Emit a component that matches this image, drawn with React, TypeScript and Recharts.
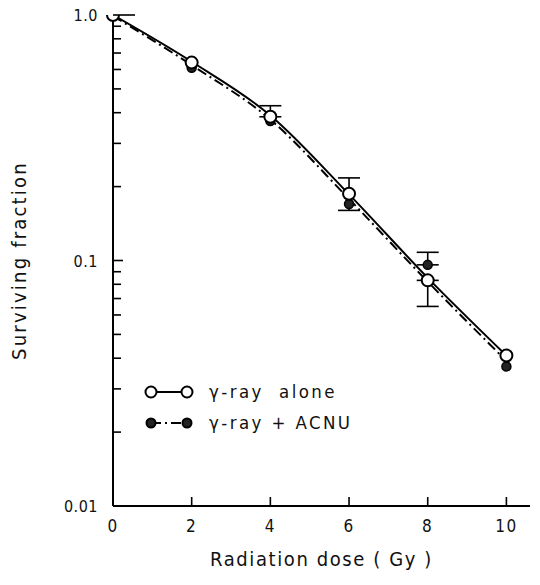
import { ErrorBar, Line, LineChart, XAxis, YAxis } from "recharts";

const doses = [0, 2, 4, 6, 8, 10];
// measured points
const aloneValues = [1.0, 0.64, 0.385, 0.187, 0.083, 0.041];
const acnuValues = [1.0, 0.61, 0.37, 0.17, 0.096, 0.037];
const aloneErrors: ([number, number] | null)[] = [null, null, [0, 0.042], [0.027, 0.03], [0.018, 0], null];
const acnuErrors: ([number, number] | null)[] = [null, null, null, null, [0, 0.012], null];
// fitted curves as drawn
const aloneCurve = [1.0, 0.645, 0.39, 0.186, 0.085, 0.041];
const acnuCurve = [0.99, 0.625, 0.375, 0.178, 0.082, 0.039];
const xTicks = [0, 2, 4, 6, 8, 10];
const yTicks = [
  0.01, 0.02, 0.03, 0.04, 0.05, 0.06, 0.07, 0.08, 0.09,
  0.1, 0.2, 0.3, 0.4, 0.5, 0.6, 0.7, 0.8, 0.9, 1.0,
];
const yLabels: Record<string, string> = { "0.01": "0.01", "0.1": "0.1", "1": "1.0" };

const data = doses.map((d, i) => ({
  dose: d,
  alone: aloneValues[i],
  acnu: acnuValues[i],
  aloneFit: aloneCurve[i],
  acnuFit: acnuCurve[i],
  errAlone: aloneErrors[i],
  errAcnu: acnuErrors[i],
}));

const FONT = "'DejaVu Sans Condensed', 'DejaVu Sans', sans-serif";
const Y_MARGIN = 6;
const X_MARGIN = 8;

function YTick(props: any) {
  const { x, y, payload } = props;
  const axisX = x + Y_MARGIN;
  const label = yLabels[String(payload.value)];
  const len = payload.value === 1 ? 22 : label ? 10 : 8;
  return (
    <g>
      <line x1={axisX} x2={axisX + len} y1={y} y2={y} stroke="#000" strokeWidth={1.6} />
      {label && (
        <text x={x - 9} y={y} dy={6} textAnchor="end" fontFamily={FONT} fontSize={16} letterSpacing={0.5} fill="#111">
          {label}
        </text>
      )}
    </g>
  );
}

function XTick(props: any) {
  const { x, y, payload } = props;
  const axisY = y - X_MARGIN;
  return (
    <g>
      {payload.value !== 0 && <line x1={x} x2={x} y1={axisY} y2={axisY - 9} stroke="#000" strokeWidth={1.6} />}
      <text x={x} y={axisY + 26} textAnchor="middle" fontFamily={FONT} fontSize={17} letterSpacing={1.5} fill="#111">
        {payload.value}
      </text>
    </g>
  );
}

function LegendBox() {
  const row = (filled: boolean, dash: string | undefined, text: string) => (
    <div style={{ display: "flex", alignItems: "center", height: 31 }}>
      <svg width={58} height={16}>
        <line x1={8} x2={44} y1={8} y2={8} stroke="#000" strokeWidth={2} strokeDasharray={dash} />
        <circle cx={8} cy={8} r={filled ? 4.5 : 5.5} fill={filled ? "#222" : "#fff"} stroke="#000" strokeWidth={2} />
        <circle cx={44} cy={8} r={filled ? 4.5 : 5.5} fill={filled ? "#222" : "#fff"} stroke="#000" strokeWidth={2} />
      </svg>
      <span style={{ fontFamily: FONT, fontSize: 18.5, letterSpacing: 2.4, color: "#111", marginLeft: 8, whiteSpace: "pre" }}>{text}</span>
    </div>
  );
  return (
    <div style={{ position: "absolute", left: 143, top: 376 }}>
      {row(false, undefined, "γ-ray  alone")}
      {row(true, "10 4 2 4", "γ-ray + ACNU")}
    </div>
  );
}

export default function App() {
  return (
    <div style={{ position: "absolute", left: 0, top: 0, width: 540, height: 585, background: "#fff" }}>
      <LineChart width={540} height={585} data={data} margin={{ top: 15, right: 10, bottom: 49, left: 13 }}>
        <XAxis
          dataKey="dose"
          type="number"
          domain={[0, 10.6]}
          ticks={xTicks}
          tick={<XTick />}
          tickLine={false}
          tickSize={0}
          tickMargin={X_MARGIN}
          height={30}
          axisLine={{ stroke: "#000", strokeWidth: 2 }}
          label={{
            value: "Radiation dose ( Gy )",
            position: "bottom",
            offset: 16,
            style: { fontFamily: FONT, fontSize: 20, letterSpacing: 1.6, fill: "#111" },
          }}
        />
        <YAxis
          type="number"
          scale="log"
          domain={[0.01, 1]}
          ticks={yTicks}
          interval={0}
          allowDataOverflow
          tick={<YTick />}
          tickLine={false}
          tickSize={0}
          tickMargin={Y_MARGIN}
          width={100}
          axisLine={{ stroke: "#000", strokeWidth: 2 }}
          label={{
            value: "Surviving fraction",
            angle: -90,
            position: "insideLeft",
            offset: 6,
            style: { textAnchor: "middle", fontFamily: FONT, fontSize: 20, letterSpacing: 2.2, fill: "#111" },
          }}
        />
        <Line
          dataKey="acnuFit"
          type="monotone"
          stroke="#000"
          strokeWidth={2}
          strokeDasharray="10 4 2 4"
          dot={false}
          isAnimationActive={false}
        />
        <Line
          dataKey="aloneFit"
          type="monotone"
          stroke="#000"
          strokeWidth={2}
          dot={false}
          isAnimationActive={false}
        />
        <Line
          dataKey="acnu"
          stroke="none"
          dot={{ r: 4.5, fill: "#222", stroke: "#000", strokeWidth: 1.5 }}
          isAnimationActive={false}
        >
          <ErrorBar dataKey="errAcnu" width={11} stroke="#000" strokeWidth={1.6} direction="y" />
        </Line>
        <Line
          dataKey="alone"
          stroke="none"
          dot={{ r: 6, fill: "#fff", stroke: "#000", strokeWidth: 2 }}
          isAnimationActive={false}
        >
          <ErrorBar dataKey="errAlone" width={11} stroke="#000" strokeWidth={1.6} direction="y" />
        </Line>
      </LineChart>
      <LegendBox />
    </div>
  );
}
